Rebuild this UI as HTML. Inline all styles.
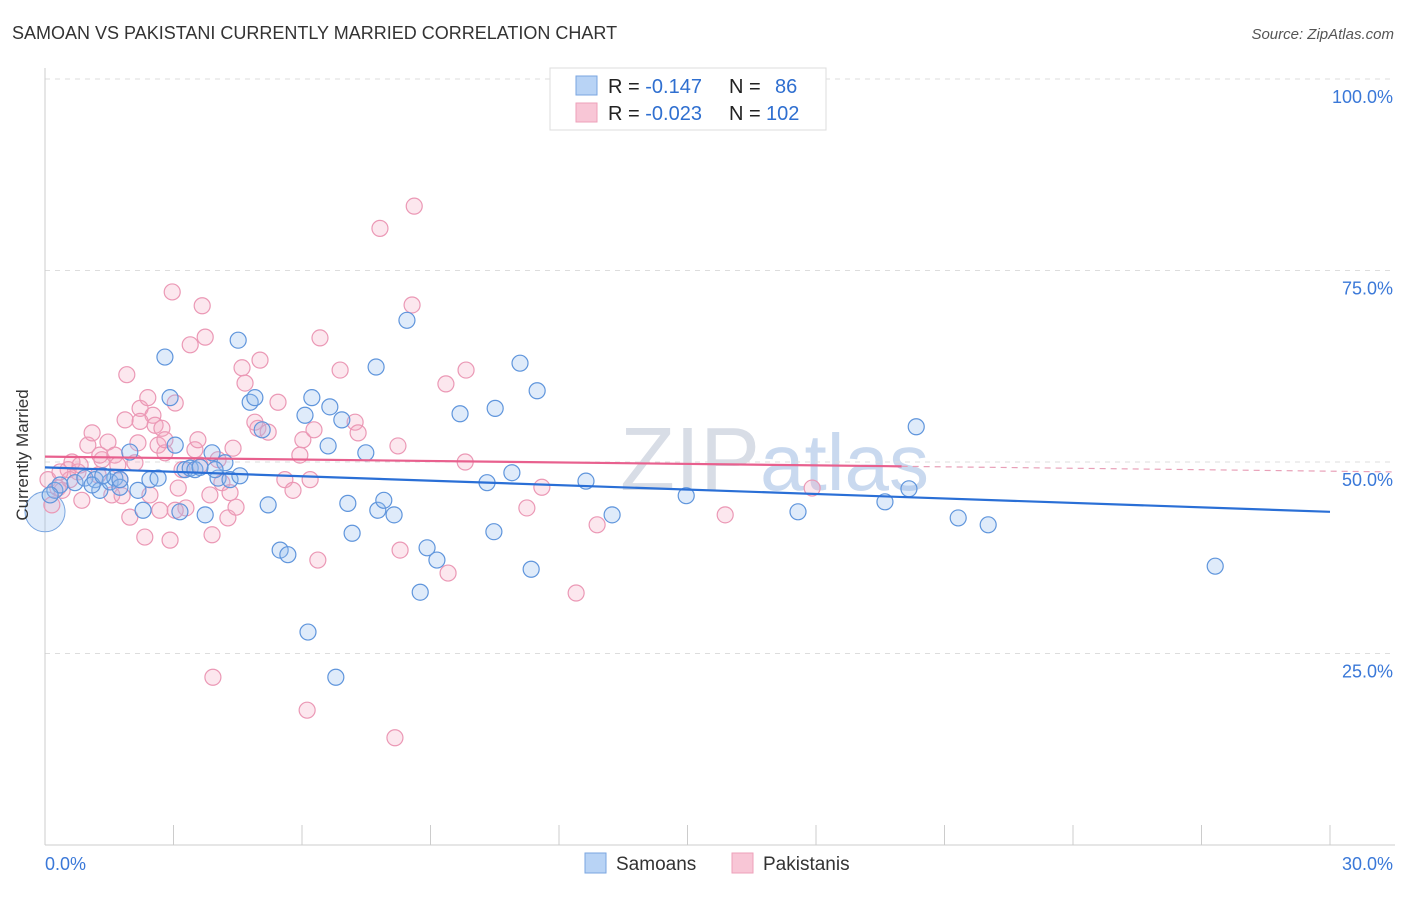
<!DOCTYPE html>
<html><head><meta charset="utf-8"><style>
body{margin:0;background:#fff;font-family:"Liberation Sans",sans-serif;}
svg text{font-family:"Liberation Sans",sans-serif;}
</style></head><body>
<svg id="chart" width="1406" height="892" xmlns="http://www.w3.org/2000/svg">
<text x="12" y="39" font-size="18" fill="#333">SAMOAN VS PAKISTANI CURRENTLY MARRIED CORRELATION CHART</text>
<text x="1394" y="39" font-size="15" fill="#555" font-style="italic" text-anchor="end">Source: ZipAtlas.com</text>
<text x="620" y="490" font-size="90" fill="#d8dde6" font-family="Liberation Serif">ZIP<tspan fill="#c9d9ef" font-family="Liberation Sans" font-size="80">atlas</tspan></text>
<g id="grid"></g><g id="axes"></g><g id="pts"></g><g id="trend"></g>
<text x="28" y="455" font-size="17" fill="#333" text-anchor="middle" transform="rotate(-90 28 455)">Currently Married</text>
<g>
<rect x="550" y="68" width="276" height="62" fill="#fff" stroke="#ddd"/>
<rect x="576" y="76" width="21" height="19" fill="#b8d3f5" stroke="#7aa6e0"/>
<rect x="576" y="103" width="21" height="19" fill="#f8c6d6" stroke="#eea0ba"/>
<text x="608" y="93" font-size="20" fill="#222">R = <tspan fill="#2f6fd0"> -0.147</tspan><tspan x="729">N = </tspan><tspan fill="#2f6fd0" x="775">86</tspan></text>
<text x="608" y="120" font-size="20" fill="#222">R = <tspan fill="#2f6fd0">-0.023</tspan><tspan x="729">N = </tspan><tspan fill="#2f6fd0" x="766">102</tspan></text>
</g>
<g>
<rect x="585" y="853" width="21" height="20" fill="#b8d3f5" stroke="#7aa6e0"/>
<text x="616" y="870" font-size="19" fill="#333">Samoans</text>
<rect x="732" y="853" width="21" height="20" fill="#f8c6d6" stroke="#eea0ba"/>
<text x="763" y="870" font-size="19" fill="#333">Pakistanis</text>
</g>
</svg>
<script>
const yTicks=[100,75,50,25];
const yTickLabels=["100.0%","75.0%","50.0%","25.0%"];
const xTickVals=[0,3,6,9,12,15,18,21,24,27,30];
const xEndLabels=["0.0%","30.0%"];
const samX=[0.23,0.35,0.70,0.93,1.17,1.28,1.52,1.63,1.75,1.98,2.17,2.29,2.45,2.64,2.80,2.92,3.04,3.15,3.27,3.39,3.50,3.74,3.90,4.04,4.20,4.32,4.51,4.55,4.79,4.90,5.07,5.21,5.49,5.67,6.07,6.14,6.23,6.61,6.65,6.79,6.93,7.07,7.17,7.49,7.73,7.77,7.91,8.15,8.45,8.76,8.92,9.15,9.69,10.32,10.51,10.48,10.90,11.09,11.35,11.49,12.63,13.24,14.97,17.58,19.61,20.17,20.34,21.32,22.02,27.32,1.75,1.10,1.35,3.62,3.97,0.12];
const samY=[46.3,47.0,47.3,47.9,47.7,46.3,47.4,47.9,46.7,51.3,46.3,43.7,47.7,47.9,63.7,58.4,52.2,43.5,49.0,49.2,49.0,43.1,51.2,47.9,49.9,47.7,65.9,48.2,57.8,58.4,54.2,44.4,38.5,37.9,56.1,27.8,58.4,52.1,57.2,21.9,55.5,44.6,40.7,51.2,62.4,43.7,45.0,43.1,68.5,33.0,38.8,37.2,56.3,47.3,57.0,40.9,48.6,62.9,36.0,59.3,47.5,43.1,45.6,43.5,44.8,46.5,54.6,42.7,41.8,36.4,47.7,47.0,48.2,49.3,49.0,45.7];
const pakX=[0.07,0.16,0.30,0.40,0.54,0.63,0.77,0.86,1.00,1.10,1.24,1.33,1.47,1.56,1.63,1.70,1.80,1.87,1.91,1.98,2.10,2.17,2.22,2.33,2.40,2.45,2.52,2.57,2.64,2.68,2.73,2.80,2.92,2.97,3.04,3.11,3.20,3.29,3.39,3.50,3.57,3.62,3.67,3.74,3.85,3.90,3.92,4.04,4.13,4.27,4.32,4.39,4.46,4.60,4.67,4.90,4.97,5.02,5.21,5.44,5.60,5.79,5.95,6.02,6.12,6.19,6.28,6.37,6.42,6.89,7.24,7.31,7.82,8.24,8.29,8.17,8.57,8.62,9.36,9.41,9.83,9.81,11.25,11.60,12.40,12.89,15.88,17.91,2.22,1.28,0.58,0.82,1.75,0.35,3.04,2.80];
const pakY=[47.7,44.4,46.6,46.3,49.0,50.0,48.7,45.0,52.2,53.8,48.3,50.3,52.6,45.7,50.9,49.6,45.6,55.5,61.4,42.8,49.9,52.5,57.0,40.2,58.4,45.7,56.1,54.8,52.2,43.7,54.4,51.2,39.8,72.2,57.7,46.6,49.0,44.0,65.3,51.6,52.9,49.6,70.4,66.3,45.7,40.5,21.9,50.3,47.3,42.7,46.0,51.8,44.1,62.3,60.3,55.2,54.4,63.3,53.9,57.8,47.7,46.3,50.9,52.9,17.6,47.7,54.2,37.2,66.2,62.0,55.2,53.8,80.5,52.1,38.5,14.0,70.5,83.4,60.2,35.5,62.0,50.0,44.0,46.7,32.9,41.8,43.1,46.6,55.3,50.9,47.7,49.6,47.7,48.7,43.7,52.9];
const samTrend=[49.3,43.5];
const pakTrend=[50.7,48.8];
const pakTrendEndX=20;
const NS="http://www.w3.org/2000/svg";
const X0=45,X1=1330,YB=845,YT=79;
const sx=v=>X0+(v/30)*(X1-X0);
const sy=v=>YB-(v/100)*(YB-YT);
function mk(tag,attrs,parent){const e=document.createElementNS(NS,tag);for(const k in attrs)e.setAttribute(k,attrs[k]);parent.appendChild(e);return e;}
const grid=document.getElementById('grid'),axes=document.getElementById('axes'),pts=document.getElementById('pts'),trend=document.getElementById('trend');
yTicks.forEach((t,i)=>{
 const l=mk('line',{x1:X0,x2:1395,y1:sy(t),y2:sy(t),stroke:'#ddd','stroke-dasharray':'5,5'},grid);
 
 
 const tx=mk('text',{x:1393,y:sy(t)+24,'font-size':18,fill:'#3a78d8','text-anchor':'end'},grid);
 tx.textContent=yTickLabels[i];
 
 
});
const ya=mk('line',{x1:X0,x2:X0,y1:68,y2:YB,stroke:'#ccc'},axes);


const xa=mk('line',{x1:X0,x2:1395,y1:YB,y2:YB,stroke:'#ccc'},axes);


xTickVals.forEach(v=>{
 const t=mk('line',{x1:sx(v),x2:sx(v),y1:825,y2:YB,stroke:'#ccc'},axes);
 
 
});
const xl0=mk('text',{x:45,y:870,'font-size':18,fill:'#3a78d8'},axes);xl0.textContent=xEndLabels[0];


const xl1=mk('text',{x:1393,y:870,'font-size':18,fill:'#3a78d8','text-anchor':'end'},axes);xl1.textContent=xEndLabels[1];


// large edge circles
const bb=mk('circle',{cx:sx(0),cy:sy(43.5),r:20,fill:'rgba(150,190,240,0.3)',stroke:'#7aa6e0'},pts);


pakX.forEach((x,i)=>{
 const c=mk('circle',{cx:sx(x),cy:sy(pakY[i]),r:8,fill:'rgba(245,170,195,0.28)',stroke:'#eb98b5','stroke-width':1.2},pts);
 
 
});
samX.forEach((x,i)=>{
 const c=mk('circle',{cx:sx(x),cy:sy(samY[i]),r:8,fill:'rgba(150,190,240,0.3)',stroke:'#5f95dc','stroke-width':1.2},pts);
 
 
});
const st=mk('line',{x1:sx(0),y1:sy(samTrend[0]),x2:sx(30),y2:sy(samTrend[1]),stroke:'#2a6fd6','stroke-width':2.2},trend);


const pm=pakTrend[0]+(pakTrend[1]-pakTrend[0])*pakTrendEndX/30;
const pt=mk('line',{x1:sx(0),y1:sy(pakTrend[0]),x2:sx(pakTrendEndX),y2:sy(pm),stroke:'#e8608e','stroke-width':2.2},trend);


const pd=mk('line',{x1:sx(pakTrendEndX),y1:sy(pm),x2:1395,y2:sy(pakTrend[0]+(pakTrend[1]-pakTrend[0])*((1395-X0)/(X1-X0))),stroke:'#e8a0b8','stroke-width':1.2,'stroke-dasharray':'6,5'},trend);


</script>
</body></html>
